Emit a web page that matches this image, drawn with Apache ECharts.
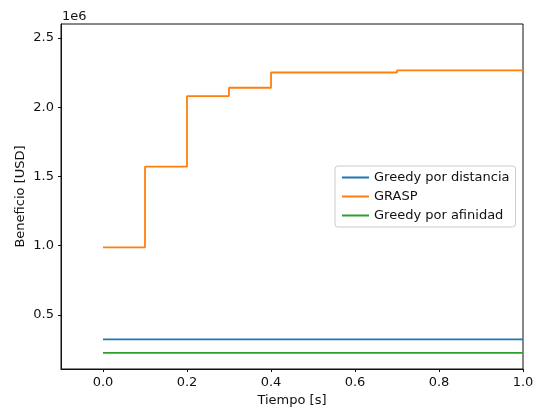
<!DOCTYPE html>
<html>
<head>
<meta charset="utf-8">
<script src="https://cdn.jsdelivr.net/npm/echarts@6/dist/echarts.min.js"></script>
<style>
  html, body { margin: 0; padding: 0; background: #fff; }
  #chart { width: 537px; height: 411px; }
</style>
</head>
<body>
<div id="chart"></div>
<script>
// tiempos y beneficios (USD)
const graspTime = [0.0, 0.1, 0.2, 0.3, 0.4, 0.7, 1.0];
const graspValue = [988000, 1570000, 2080000, 2140000, 2250000, 2265000, 2265000];
const distTime = [0.0, 1.0];
const distValue = [324000, 324000];
const afinTime = [0.0, 1.0];
const afinValue = [226000, 226000];

const xTicks = [0.0, 0.2, 0.4, 0.6, 0.8, 1.0];
const yTicks = [500000, 1000000, 1500000, 2000000, 2500000];

const font = 'DejaVu Sans';

function pairs(xs, ys) {
    return xs.map((x, i) => [x, ys[i]]);
}

const myChart = echarts.init(document.getElementById('chart'));

myChart.setOption({
    backgroundColor: '#fff',
    animation: false,
    textStyle: { fontFamily: font },
    grid: {
        left: 61, right: 14, top: 24, bottom: 42,
        outerBoundsMode: 'none',
        show: true, borderColor: '#111', borderWidth: 1
    },
    graphic: [{
        type: 'text', left: 62, top: 10,
        style: { text: '1e6', fontSize: 13, fontFamily: font, fill: '#111' }
    }],
    legend: {
        orient: 'vertical',
        left: 335, top: 166,
        padding: [5, 6],
        itemWidth: 27, itemHeight: 13, itemGap: 6, itemTextGap: 10,
        itemStyle: { opacity: 0 },
        borderColor: '#ccc', borderWidth: 1, borderRadius: 3,
        backgroundColor: 'rgba(255,255,255,0.8)',
        textStyle: { fontSize: 13, fontFamily: font, color: '#111' },
        data: ['Greedy por distancia', 'GRASP', 'Greedy por afinidad']
    },
    xAxis: {
        type: 'value', min: -0.1, max: 1.0,
        name: 'Tiempo [s]', nameLocation: 'middle', nameGap: 25, nameMoveOverlap: false,
        nameTextStyle: { fontSize: 13, color: '#111' },
        axisLine: { show: true, onZero: false, lineStyle: { color: '#111' } },
        axisTick: { show: true, length: 3, customValues: xTicks, lineStyle: { color: '#111' } },
        axisLabel: {
            customValues: xTicks, margin: 7, fontSize: 13, color: '#111',
            formatter: v => v.toFixed(1)
        },
        splitLine: { show: false }
    },
    yAxis: {
        type: 'value', min: 110000, max: 2600000,
        name: 'Beneficio [USD]', nameLocation: 'middle', nameGap: 34, nameMoveOverlap: false,
        nameTextStyle: { fontSize: 13, color: '#111' },
        axisLine: { show: true, onZero: false, lineStyle: { color: '#111' } },
        axisTick: { show: true, length: 3, customValues: yTicks, lineStyle: { color: '#111' } },
        axisLabel: {
            customValues: yTicks, margin: 7, fontSize: 13, color: '#111',
            formatter: v => (v / 1e6).toFixed(1)
        },
        splitLine: { show: false }
    },
    series: [{
        name: 'Greedy por distancia', type: 'line', symbol: 'none',
        color: '#1f77b4', lineStyle: { width: 1.8 },
        data: pairs(distTime, distValue)
    }, {
        name: 'GRASP', type: 'line', symbol: 'none', step: 'end',
        color: '#ff7f0e', lineStyle: { width: 1.8 },
        data: pairs(graspTime, graspValue)
    }, {
        name: 'Greedy por afinidad', type: 'line', symbol: 'none',
        color: '#2ca02c', lineStyle: { width: 1.8 },
        data: pairs(afinTime, afinValue)
    }]
});
</script>
</body>
</html>
